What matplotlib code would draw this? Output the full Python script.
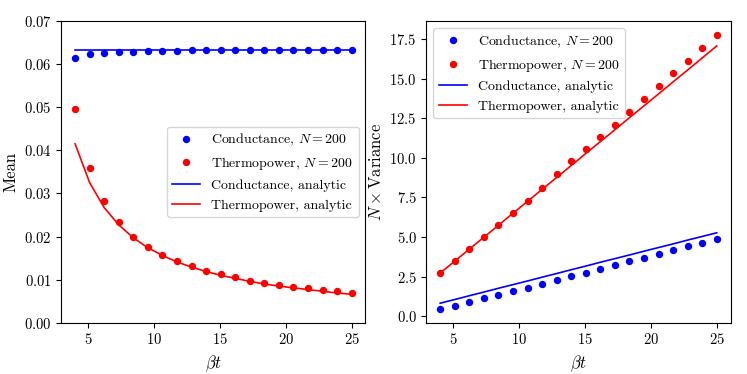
import numpy as np
import matplotlib
matplotlib.use("Agg")
import matplotlib.pyplot as plt

plt.rcParams['font.family'] = 'serif'
plt.rcParams['font.serif'] = ['cmr10']
plt.rcParams['mathtext.fontset'] = 'cm'
plt.rcParams['axes.formatter.use_mathtext'] = True
plt.rcParams['font.size'] = 10.5

# beta*t sample points
bt = [4.0, 5.105, 6.211, 7.316, 8.421, 9.526, 10.632, 11.737, 12.842, 13.947,
      15.053, 16.158, 17.263, 18.368, 19.474, 20.579, 21.684, 22.789, 23.895, 25.0]

# mean
cond_mean = [0.0615, 0.0623, 0.0626, 0.0628, 0.0629, 0.0630, 0.0631, 0.0631, 0.0632, 0.0632,
             0.0632, 0.0632, 0.0632, 0.0632, 0.0633, 0.0633, 0.0633, 0.0633, 0.0633, 0.0633]
thermo_mean = [0.0495, 0.0358, 0.0282, 0.0234, 0.0200, 0.0176, 0.0157, 0.0143, 0.0131, 0.0121,
               0.0112, 0.0105, 0.0098, 0.0093, 0.0088, 0.0084, 0.0080, 0.0076, 0.0073, 0.0070]
cond_mean_an = [0.0633] * 20
thermo_mean_an = [0.0415, 0.0325, 0.0267, 0.0227, 0.0197, 0.0174, 0.0156, 0.0141, 0.0129, 0.0119,
                  0.0110, 0.0103, 0.0096, 0.0090, 0.0085, 0.0081, 0.0077, 0.0073, 0.0069, 0.0066]

# N x variance
cond_var = [0.46, 0.67, 0.90, 1.13, 1.36, 1.58, 1.81, 2.06, 2.29, 2.52,
            2.75, 2.98, 3.23, 3.46, 3.69, 3.94, 4.17, 4.42, 4.65, 4.90]
thermo_var = [2.73, 3.48, 4.23, 4.98, 5.75, 6.52, 7.29, 8.08, 9.00, 9.77,
              10.54, 11.33, 12.10, 12.92, 13.73, 14.52, 15.33, 16.14, 16.96, 17.77]
cond_var_an = [0.83, 1.06, 1.30, 1.53, 1.77, 2.00, 2.23, 2.47, 2.70, 2.94,
               3.17, 3.41, 3.64, 3.87, 4.11, 4.34, 4.57, 4.81, 5.04, 5.27]
thermo_var_an = [2.73, 3.48, 4.24, 4.99, 5.74, 6.50, 7.25, 8.01, 8.76, 9.51,
                 10.27, 11.02, 11.77, 12.53, 13.28, 14.03, 14.79, 15.54, 16.30, 17.06]

fig, (ax1, ax2) = plt.subplots(1, 2, figsize=(7.47, 3.74), dpi=100)
fig.subplots_adjust(left=0.082, right=0.978, bottom=0.137, top=0.944, wspace=0.2)

for ax, cm, tm, ca, ta in [(ax1, cond_mean, thermo_mean, cond_mean_an, thermo_mean_an),
                           (ax2, cond_var, thermo_var, cond_var_an, thermo_var_an)]:
    ax.plot(bt, cm, 'o', color='blue', markersize=4.3, label=r'Conductance, $N = 200$')
    ax.plot(bt, tm, 'o', color='red', markersize=4.3, label=r'Thermopower, $N = 200$')
    ax.plot(bt, ca, '-', color='blue', lw=1.2, label='Conductance, analytic')
    ax.plot(bt, ta, '-', color='red', lw=1.2, label='Thermopower, analytic')
    ax.set_xlabel(r'$\beta t$', fontsize=12)
    ax.set_xticks([5, 10, 15, 20, 25])

ax1.set_ylim(0, 0.07)
ax1.set_ylabel('Mean', fontsize=12)
ax1.legend(loc='center right', fontsize=10)
ax2.set_ylabel(r'$N\times$Variance', fontsize=12)
ax2.legend(loc='upper left', fontsize=10)

plt.savefig('out.png')
